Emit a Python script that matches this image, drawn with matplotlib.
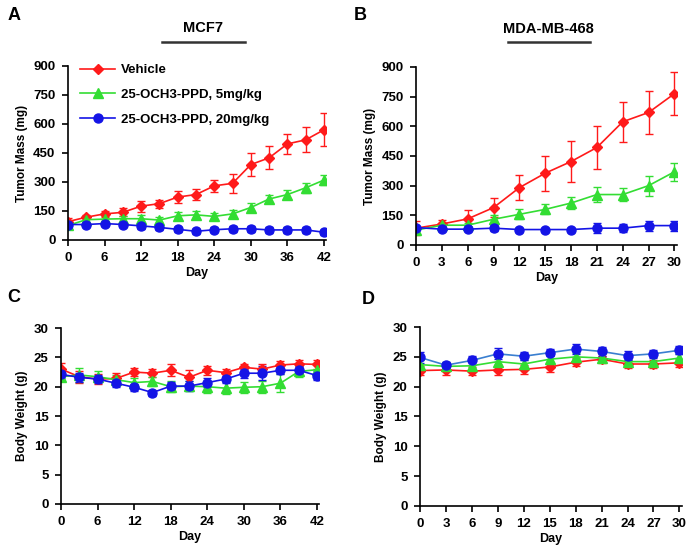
import matplotlib
matplotlib.use("Agg")
import matplotlib.pyplot as plt
from matplotlib.lines import Line2D
import numpy as np

plt.rcParams['font.family'] = ['Liberation Sans', 'DejaVu Sans']
plt.rcParams['font.weight'] = 'bold'

# ---- Data ----
days_mcf7 = [0, 3, 6, 9, 12, 15, 18, 21, 24, 27, 30, 33, 36, 39, 42]
days_mda = [0, 3, 6, 9, 12, 15, 18, 21, 24, 27, 30]

labels = ["Vehicle", "25-OCH3-PPD, 5mg/kg", "25-OCH3-PPD, 20mg/kg"]

# A: MCF7 tumor mass
a_veh = [95, 118, 135, 143, 175, 188, 222, 235, 280, 293, 390, 425, 497, 518, 570]
a_veh_err = [20, 10, 15, 20, 28, 20, 32, 30, 32, 50, 60, 60, 50, 65, 85]
a_low = [75, 105, 108, 110, 110, 103, 125, 130, 122, 135, 168, 212, 235, 270, 310]
a_low_err = [15, 15, 15, 15, 18, 15, 18, 20, 18, 20, 22, 22, 25, 25, 25]
a_high = [80, 80, 85, 80, 73, 65, 55, 45, 53, 58, 58, 52, 52, 52, 40]
a_high_err = [15, 15, 15, 15, 15, 15, 12, 12, 12, 15, 15, 15, 15, 15, 12]

# B: MDA-MB-468 tumor mass
b_veh = [85, 106, 132, 189, 290, 363, 422, 493, 623, 670, 765]
b_veh_err = [35, 20, 45, 50, 65, 88, 105, 110, 100, 108, 110]
b_low = [75, 100, 100, 130, 155, 180, 212, 255, 255, 300, 370]
b_low_err = [15, 10, 10, 20, 25, 25, 30, 40, 35, 50, 45]
b_high = [88, 80, 80, 85, 78, 78, 78, 85, 85, 98, 98]
b_high_err = [10, 10, 10, 15, 10, 10, 10, 25, 20, 25, 25]

# C: MCF7 body weight
c_veh = [23.0, 21.7, 21.3, 21.4, 22.5, 22.3, 22.8, 21.6, 22.8, 22.4, 23.3, 23.0, 23.7, 23.9, 23.8]
c_veh_err = [1.0, 1.0, 0.8, 0.9, 0.7, 0.7, 1.0, 1.2, 0.8, 0.7, 0.6, 0.8, 0.6, 0.6, 0.8]
c_low = [21.7, 22.0, 21.7, 21.2, 20.7, 20.9, 20.0, 20.1, 20.0, 19.75, 19.9, 20.0, 20.6, 22.6, 22.9]
c_low_err = [0.8, 1.2, 0.9, 0.8, 0.8, 0.8, 0.9, 0.8, 1.0, 1.0, 0.9, 1.0, 1.5, 0.9, 0.8]
c_high = [22.1, 21.6, 21.3, 20.6, 19.9, 19.0, 20.1, 20.1, 20.7, 21.3, 22.3, 22.3, 22.8, 22.8, 21.9]
c_high_err = [0.6, 0.8, 0.7, 0.7, 0.6, 0.5, 0.7, 0.9, 0.7, 0.6, 0.8, 1.2, 0.7, 0.8, 0.8]

# D: MDA-MB-468 body weight
d_veh = [22.7, 22.8, 22.6, 22.8, 22.9, 23.3, 24.1, 24.6, 23.8, 23.8, 24.0]
d_veh_err = [0.7, 0.8, 0.7, 0.8, 0.8, 0.8, 0.7, 0.6, 0.7, 0.7, 0.7]
d_low = [23.7, 23.4, 23.5, 24.2, 23.8, 24.6, 25.0, 24.8, 24.2, 24.2, 24.8]
d_low_err = [0.7, 0.7, 0.7, 0.8, 0.7, 0.7, 0.7, 0.7, 0.7, 0.7, 0.7]
d_high = [24.9, 23.6, 24.4, 25.5, 25.1, 25.7, 26.3, 25.9, 25.2, 25.5, 26.1]
d_high_err = [0.9, 0.6, 0.7, 0.9, 0.7, 0.6, 0.8, 0.7, 0.7, 0.7, 0.7]

colors = ["#ff1a1a", "#33dd33", "#1414e6"]
markers = ["D", "^", "o"]
msizes = [5, 6.5, 6.5]

fig = plt.figure(figsize=(6.95, 5.55), dpi=100)

axA = fig.add_axes([0.0978, 0.5676, 0.371, 0.3135])
axB = fig.add_axes([0.5986, 0.5586, 0.3755, 0.3207])
axC = fig.add_axes([0.0878, 0.0919, 0.371, 0.317])
axD = fig.add_axes([0.6043, 0.0883, 0.377, 0.3225])


def draw(ax, x, series, errs, line_colors=None):
    for i, (y, e) in enumerate(zip(series, errs)):
        lc = colors[i] if line_colors is None else line_colors[i]
        ax.errorbar(x, y, yerr=e, color=lc, marker=markers[i], ms=msizes[i],
                    mfc=colors[i], mec=colors[i], ecolor=colors[i], lw=1.2,
                    elinewidth=1.0, capsize=3, capthick=1.0, label=labels[i])


def style(ax, xt, yt, xlim, ylim, ylabel):
    ax.set_xlim(*xlim)
    ax.set_ylim(*ylim)
    ax.set_xticks(xt)
    ax.set_yticks(yt)
    for s in ["top", "right"]:
        ax.spines[s].set_visible(False)
    for s in ["left", "bottom"]:
        ax.spines[s].set_linewidth(1.2)
    ax.tick_params(direction="out", length=4, width=1.2, labelsize=9.5, pad=5)
    for lbl in ax.get_xticklabels() + ax.get_yticklabels():
        lbl.set_fontweight("bold")
    ax.set_xlabel("Day", fontsize=9, fontweight="bold", labelpad=2)
    ax.set_ylabel(ylabel, fontsize=8.5, fontweight="bold", labelpad=4)
    for sp in ax.spines.values():
        sp.set_clip_on(False)


draw(axA, days_mcf7, [a_veh, a_low, a_high], [a_veh_err, a_low_err, a_high_err])
style(axA, days_mcf7[::2], [0, 150, 300, 450, 600, 750, 900], (0, 42.3), (0, 900), "Tumor Mass (mg)")
handles = [Line2D([], [], color=colors[i], marker=markers[i], ms=msizes[i], lw=1.2)
           for i in range(3)]
leg = axA.legend(handles, labels, loc="upper left", bbox_to_anchor=(0.0, 1.08), frameon=False,
                 fontsize=9.5, handlelength=2.7, handletextpad=0.4, labelspacing=0.95)
for t in leg.get_texts():
    t.set_fontweight("bold")

draw(axB, days_mda, [b_veh, b_low, b_high], [b_veh_err, b_low_err, b_high_err])
style(axB, days_mda, [0, 150, 300, 450, 600, 750, 900], (0, 30.3), (0, 900), "Tumor Mass (mg)")

draw(axC, days_mcf7, [c_veh, c_low, c_high], [c_veh_err, c_low_err, c_high_err])
style(axC, days_mcf7[::2], [0, 5, 10, 15, 20, 25, 30], (0, 42.3), (0, 30), "Body Weight (g)")

draw(axD, days_mda, [d_veh, d_low, d_high], [d_veh_err, d_low_err, d_high_err],
     line_colors=[colors[0], colors[1], "#3a7fd0"])
style(axD, days_mda, [0, 5, 10, 15, 20, 25, 30], (0, 30.3), (0, 30), "Body Weight (g)")

# Titles with underline
fig.text(203 / 695, 1 - 28 / 555, "MCF7", ha="center", va="center", fontsize=10.5, fontweight="bold")
fig.add_artist(plt.Line2D([162 / 695, 245 / 695], [1 - 42 / 555, 1 - 42 / 555], color="#333333", lw=1.8))
fig.text(548 / 695, 1 - 29 / 555, "MDA-MB-468", ha="center", va="center", fontsize=10.5, fontweight="bold")
fig.add_artist(plt.Line2D([508 / 695, 590 / 695], [1 - 42 / 555, 1 - 42 / 555], color="#333333", lw=1.8))

# Panel letters
for lab, (px, py) in zip("ABCD", [(14, 15), (360, 15), (14, 298), (368, 300)]):
    fig.text(px / 695, 1 - py / 555, lab, ha="center", va="center", fontsize=13, fontweight="bold")

fig.savefig("out.png", dpi=100)
